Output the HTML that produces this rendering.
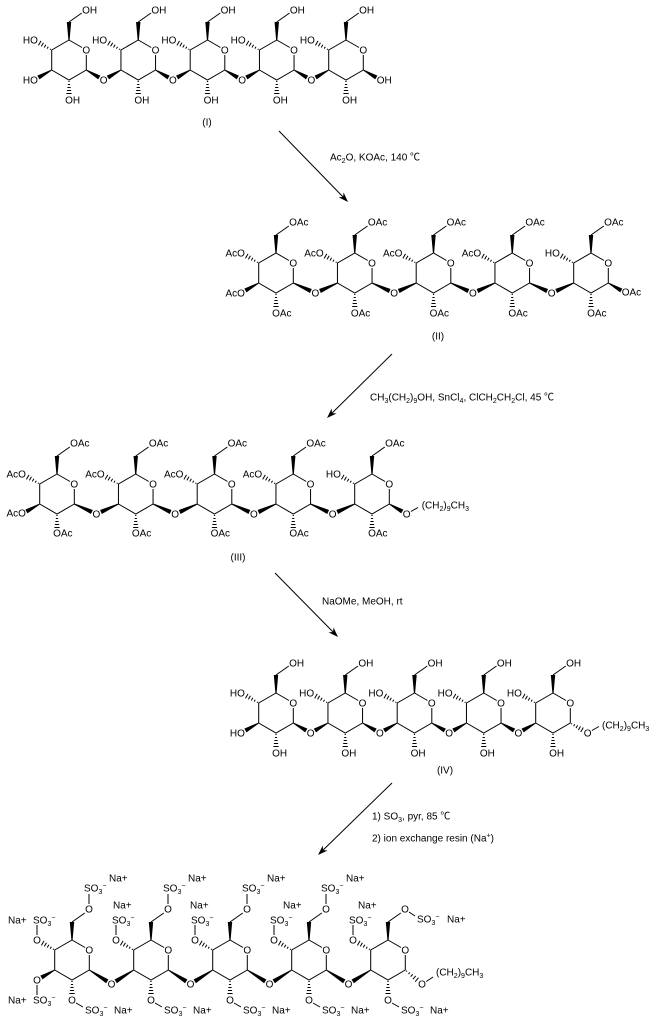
<!DOCTYPE html>
<html><head><meta charset="utf-8"><style>
html,body{margin:0;padding:0;background:#fff;}
svg{display:block}
text{font-family:"Liberation Sans","Noto Sans CJK SC",sans-serif;font-size:10px;fill:#000}
.m{text-anchor:middle}
.e{text-anchor:end}
.s{font-size:7px}
</style></head><body>
<svg width="655" height="1027" viewBox="0 0 655 1027" xmlns="http://www.w3.org/2000/svg">
<defs>
<g id="r">
<path d="M0,0 L13,7.5 M17.3,15 L17.3,30 L0,40 L-17.3,30 L-17.3,10 L0,0 M0,-18 L12.8,-27" fill="none" stroke="#000" stroke-width="1"/>
<polygon points="-0.6,0 0.6,0 2.2,-18 -2.2,-18" fill="#000"/>
</g>
<path id="h4" d="M-18.93,9.75 L-18.33,8.71 M-21.84,8.64 L-20.74,6.74 M-24.75,7.54 L-23.15,4.76 M-27.66,6.43 L-25.56,2.79 M-30.57,5.32 L-27.97,0.82" fill="none" stroke="#000" stroke-width="1"/>
<polygon id="b3" points="-17.05,30.43 -29.5,39.4 -31.7,35.6 -17.55,29.57" fill="#000"/>
<path id="h2" d="M-0.6,41.5 L0.6,41.5 M-1.1,44.5 L1.1,44.5 M-1.6,47.5 L1.6,47.5 M-2.1,50.5 L2.1,50.5 M-2.6,53.5 L2.6,53.5" fill="none" stroke="#000" stroke-width="1"/>
<polygon id="wA" points="17.05,30.43 29.2,39.4 31.4,35.6 17.55,29.57" fill="#000"/>
<g id="gA"><use href="#wA"/><polygon points="52.2,30.43 40,39.4 37.8,35.6 51.7,29.57" fill="#000"/></g>
<g id="gB"><polygon points="17.1,30.46 34.0,39.95 35.8,35.95 17.5,29.54" fill="#000"/><polygon points="61.65,30.46 44.85,39.95 43.05,35.95 61.25,29.54" fill="#000"/></g>
<g id="gC"><polygon points="17.03,30.42 34.09,43.19 36.43,39.47 17.57,29.58" fill="#000"/><polygon points="61.97,30.42 44.91,43.19 42.57,39.47 61.43,29.58" fill="#000"/></g>
<path id="hA" d="M18.3,31.27 L18.9,30.23 M20.65,33.2 L21.75,31.3 M23,35.14 L24.6,32.36 M25.35,37.07 L27.45,33.43 M27.7,39 L30.3,34.5" fill="none" stroke="#000" stroke-width="1"/>
<path id="hC" d="M18.2,31.54 L18.97,30.62 M20.45,34.08 L21.87,32.4 M22.71,36.63 L24.77,34.17 M24.96,39.16 L27.66,35.94 M27.21,41.7 L30.55,37.72" fill="none" stroke="#000" stroke-width="1"/>
</defs>

<!-- ===== (I) ===== -->
<g transform="translate(69,40)"><use href="#r"/><use href="#h4"/><use href="#b3"/><use href="#h2"/><use href="#gA"/>
<text x="13.1" y="-26.4">OH</text><text class="e" x="-31.1" y="3.6">HO</text><text class="m" x="17.3" y="13.6">O</text><text class="e" x="-31.1" y="43.6">HO</text><text x="-3.9" y="63.6">OH</text><text class="m" x="34.6" y="43.6">O</text></g>
<g transform="translate(138.25,40)"><use href="#r"/><use href="#h4"/><use href="#h2"/><use href="#gA"/>
<text x="13.1" y="-26.4">OH</text><text class="e" x="-31.1" y="3.6">HO</text><text class="m" x="17.3" y="13.6">O</text><text x="-3.9" y="63.6">OH</text><text class="m" x="34.6" y="43.6">O</text></g>
<g transform="translate(207.5,40)"><use href="#r"/><use href="#h4"/><use href="#h2"/><use href="#gA"/>
<text x="13.1" y="-26.4">OH</text><text class="e" x="-31.1" y="3.6">HO</text><text class="m" x="17.3" y="13.6">O</text><text x="-3.9" y="63.6">OH</text><text class="m" x="34.6" y="43.6">O</text></g>
<g transform="translate(276.75,40)"><use href="#r"/><use href="#h4"/><use href="#h2"/><use href="#gA"/>
<text x="13.1" y="-26.4">OH</text><text class="e" x="-31.1" y="3.6">HO</text><text class="m" x="17.3" y="13.6">O</text><text x="-3.9" y="63.6">OH</text><text class="m" x="34.6" y="43.6">O</text></g>
<g transform="translate(346,40)"><use href="#r"/><use href="#h4"/><use href="#h2"/><use href="#wA"/>
<text x="13.1" y="-26.4">OH</text><text class="e" x="-31.1" y="3.6">HO</text><text class="m" x="17.3" y="13.6">O</text><text x="-3.9" y="63.6">OH</text><text x="30.7" y="43.6">OH</text></g>
<text class="m" x="207" y="125.6">(I)</text>

<!-- arrow 1 -->
<path d="M279,131 L343.12,196.98" stroke="#000" fill="none"/>
<polygon points="348,202 338.52,197.27 343.12,196.98 343.54,192.39" fill="#000"/>
<text x="330" y="160.6">Ac<tspan class="s" dy="2.5">2</tspan><tspan dy="-2.5">O, KOAc, 140 ℃</tspan></text>

<!-- ===== (II) ===== -->
<g transform="translate(276,253)"><use href="#r"/><use href="#h4"/><use href="#b3"/><use href="#h2"/><use href="#gB"/>
<text x="13.1" y="-27.4">OAc</text><text class="e" x="-31.1" y="3.6">AcO</text><text class="m" x="17.3" y="13.6">O</text><text class="e" x="-31.1" y="43.6">AcO</text><text x="-3.9" y="63.6">OAc</text><text class="m" x="39.4" y="43.6">O</text></g>
<g transform="translate(354.75,253)"><use href="#r"/><use href="#h4"/><use href="#h2"/><use href="#gB"/>
<text x="13.1" y="-27.4">OAc</text><text class="e" x="-31.1" y="3.6">AcO</text><text class="m" x="17.3" y="13.6">O</text><text x="-3.9" y="63.6">OAc</text><text class="m" x="39.4" y="43.6">O</text></g>
<g transform="translate(433.5,253)"><use href="#r"/><use href="#h4"/><use href="#h2"/><use href="#gB"/>
<text x="13.1" y="-27.4">OAc</text><text class="e" x="-31.1" y="3.6">AcO</text><text class="m" x="17.3" y="13.6">O</text><text x="-3.9" y="63.6">OAc</text><text class="m" x="39.4" y="43.6">O</text></g>
<g transform="translate(512.25,253)"><use href="#r"/><use href="#h4"/><use href="#h2"/><use href="#gB"/>
<text x="13.1" y="-27.4">OAc</text><text class="e" x="-31.1" y="3.6">AcO</text><text class="m" x="17.3" y="13.6">O</text><text x="-3.9" y="63.6">OAc</text><text class="m" x="39.4" y="43.6">O</text></g>
<g transform="translate(591,253)"><use href="#r"/><use href="#h4"/><use href="#h2"/><use href="#wA"/>
<text x="13.1" y="-27.4">OAc</text><text class="e" x="-31.1" y="3.6">HO</text><text class="m" x="17.3" y="13.6">O</text><text x="-3.9" y="63.6">OAc</text><text x="30.7" y="42.6">OAc</text></g>
<text class="m" x="438" y="339.6">(II)</text>

<!-- arrow 2 -->
<path d="M392,354 L331.99,413.09" stroke="#000" fill="none"/>
<polygon points="327,418 331.67,408.48 331.99,413.09 336.59,413.48" fill="#000"/>
<text x="370" y="400.6">CH<tspan class="s" dy="2.5">3</tspan><tspan dy="-2.5">(CH</tspan><tspan class="s" dy="2.5">2</tspan><tspan dy="-2.5">)</tspan><tspan class="s" dy="2.5">9</tspan><tspan dy="-2.5">OH, SnCl</tspan><tspan class="s" dy="2.5">4</tspan><tspan dy="-2.5">, ClCH</tspan><tspan class="s" dy="2.5">2</tspan><tspan dy="-2.5">CH</tspan><tspan class="s" dy="2.5">2</tspan><tspan dy="-2.5">Cl, 45 ℃</tspan></text>

<!-- ===== (III) ===== -->
<g transform="translate(57,474)"><use href="#r"/><use href="#h4"/><use href="#b3"/><use href="#h2"/><use href="#gB"/>
<text x="13.1" y="-27.4">OAc</text><text class="e" x="-31.1" y="3.6">AcO</text><text class="m" x="17.3" y="13.6">O</text><text class="e" x="-31.1" y="42.6">AcO</text><text x="-3.9" y="62.6">OAc</text><text class="m" x="39.4" y="43.6">O</text></g>
<g transform="translate(135.75,474)"><use href="#r"/><use href="#h4"/><use href="#h2"/><use href="#gB"/>
<text x="13.1" y="-27.4">OAc</text><text class="e" x="-31.1" y="3.6">AcO</text><text class="m" x="17.3" y="13.6">O</text><text x="-3.9" y="62.6">OAc</text><text class="m" x="39.4" y="43.6">O</text></g>
<g transform="translate(214.5,474)"><use href="#r"/><use href="#h4"/><use href="#h2"/><use href="#gB"/>
<text x="13.1" y="-27.4">OAc</text><text class="e" x="-31.1" y="3.6">AcO</text><text class="m" x="17.3" y="13.6">O</text><text x="-3.9" y="62.6">OAc</text><text class="m" x="39.4" y="43.6">O</text></g>
<g transform="translate(293.25,474)"><use href="#r"/><use href="#h4"/><use href="#h2"/><use href="#gB"/>
<text x="13.1" y="-27.4">OAc</text><text class="e" x="-31.1" y="3.6">AcO</text><text class="m" x="17.3" y="13.6">O</text><text x="-3.9" y="62.6">OAc</text><text class="m" x="39.4" y="43.6">O</text></g>
<g transform="translate(372,474)"><use href="#r"/><use href="#h4"/><use href="#h2"/><use href="#wA"/>
<text x="13.1" y="-27.4">OAc</text><text class="e" x="-31.1" y="3.6">HO</text><text class="m" x="17.3" y="13.6">O</text><text x="-3.9" y="62.6">OAc</text><text class="m" x="34.6" y="43.6">O</text>
<path d="M38.9,37.5 L46,33.5" stroke="#000" fill="none"/>
<text x="49.7" y="34.6">(CH<tspan class="s" dy="2.5">2</tspan><tspan dy="-2.5">)</tspan><tspan class="s" dy="2.5">9</tspan><tspan dy="-2.5">CH</tspan><tspan class="s" dy="2.5">3</tspan></text></g>
<text class="m" x="238" y="560.6">(III)</text>

<!-- arrow 3 -->
<path d="M275,573 L333.09,632.01" stroke="#000" fill="none"/>
<polygon points="338,637 328.49,632.32 333.09,632.01 333.49,627.42" fill="#000"/>
<text x="322" y="604.6">NaOMe, MeOH, rt</text>

<!-- ===== (IV) ===== -->
<g transform="translate(276,693)"><use href="#r"/><use href="#h4"/><use href="#b3"/><use href="#h2"/><use href="#gA"/>
<text x="13.1" y="-26.4">OH</text><text class="e" x="-31.1" y="3.6">HO</text><text class="m" x="17.3" y="13.6">O</text><text class="e" x="-31.1" y="43.6">HO</text><text x="-3.9" y="63.6">OH</text><text class="m" x="34.6" y="43.6">O</text></g>
<g transform="translate(345.25,693)"><use href="#r"/><use href="#h4"/><use href="#h2"/><use href="#gA"/>
<text x="13.1" y="-26.4">OH</text><text class="e" x="-31.1" y="3.6">HO</text><text class="m" x="17.3" y="13.6">O</text><text x="-3.9" y="63.6">OH</text><text class="m" x="34.6" y="43.6">O</text></g>
<g transform="translate(414.5,693)"><use href="#r"/><use href="#h4"/><use href="#h2"/><use href="#gA"/>
<text x="13.1" y="-26.4">OH</text><text class="e" x="-31.1" y="3.6">HO</text><text class="m" x="17.3" y="13.6">O</text><text x="-3.9" y="63.6">OH</text><text class="m" x="34.6" y="43.6">O</text></g>
<g transform="translate(483.75,693)"><use href="#r"/><use href="#h4"/><use href="#h2"/><use href="#gA"/>
<text x="13.1" y="-26.4">OH</text><text class="e" x="-31.1" y="3.6">HO</text><text class="m" x="17.3" y="13.6">O</text><text x="-3.9" y="63.6">OH</text><text class="m" x="34.6" y="43.6">O</text></g>
<g transform="translate(553,693)"><use href="#r"/><use href="#h4"/><use href="#h2"/><use href="#hA"/>
<text x="13.1" y="-26.4">OH</text><text class="e" x="-31.1" y="3.6">HO</text><text class="m" x="17.3" y="13.6">O</text><text x="-3.9" y="63.6">OH</text><text class="m" x="34.6" y="43.6">O</text>
<path d="M38.9,37.5 L46,33.5" stroke="#000" fill="none"/>
<text x="49" y="35.6">(CH<tspan class="s" dy="2.5">2</tspan><tspan dy="-2.5">)</tspan><tspan class="s" dy="2.5">9</tspan><tspan dy="-2.5">CH</tspan><tspan class="s" dy="2.5">3</tspan></text></g>
<text class="m" x="445" y="773.6">(IV)</text>

<!-- arrow 4 -->
<path d="M392,783 L323.02,850.11" stroke="#000" fill="none"/>
<polygon points="318,855 322.73,845.51 323.02,850.11 327.61,850.53" fill="#000"/>
<text x="372" y="819.6">1) SO<tspan class="s" dy="2.5">3</tspan><tspan dy="-2.5">, pyr, 85 ℃</tspan></text>
<text x="372" y="841.6">2) ion exchange resin (Na<tspan class="s" dy="-4">+</tspan><tspan dy="4">)</tspan></text>

<!-- ===== (V) ===== -->
<g transform="translate(72,940)"><use href="#r"/><use href="#h4"/><use href="#b3"/><use href="#h2"/><use href="#gC"/>
<path d="M17,-36 L17,-46 M-35,-5 L-35,-15 M-35,45 L-35,55 M4,63 L11,67" stroke="#000" fill="none"/>
<text class="m" x="17" y="-27.4">O</text>
<text x="12" y="-48.4">SO<tspan class="s" dy="2.5">3</tspan><tspan class="s" dy="-6">−</tspan></text>
<text x="37" y="-58.4">Na+</text>
<text class="m" x="-35" y="3.6">O</text>
<text x="-39" y="-16.4">SO<tspan class="s" dy="2.5">3</tspan><tspan class="s" dy="-6">−</tspan></text>
<text x="-64" y="-16.4">Na+</text>
<text class="m" x="17.3" y="13.6">O</text>
<text class="m" x="-35" y="43.6">O</text>
<text x="-39" y="63.6">SO<tspan class="s" dy="2.5">3</tspan><tspan class="s" dy="-6">−</tspan></text>
<text x="-64" y="63.6">Na+</text>
<text class="m" x="0" y="63.6">O</text>
<text x="13" y="73.6">SO<tspan class="s" dy="2.5">3</tspan><tspan class="s" dy="-6">−</tspan></text>
<text x="42" y="73.6">Na+</text>
<text class="m" x="39.5" y="47.6">O</text></g>

<g transform="translate(151,940)"><use href="#r"/><use href="#h4"/><use href="#h2"/><use href="#gC"/>
<path d="M17,-36 L17,-46 M-35,-5 L-35,-15 M4,63 L11,67" stroke="#000" fill="none"/>
<text class="m" x="17" y="-27.4">O</text>
<text x="12" y="-48.4">SO<tspan class="s" dy="2.5">3</tspan><tspan class="s" dy="-6">−</tspan></text>
<text x="37" y="-58.4">Na+</text>
<text class="m" x="-35" y="3.6">O</text>
<text x="-39" y="-16.4">SO<tspan class="s" dy="2.5">3</tspan><tspan class="s" dy="-6">−</tspan></text>
<text x="-38" y="-31.4">Na+</text>
<text class="m" x="17.3" y="13.6">O</text>
<text class="m" x="0" y="63.6">O</text>
<text x="13" y="73.6">SO<tspan class="s" dy="2.5">3</tspan><tspan class="s" dy="-6">−</tspan></text>
<text x="42" y="73.6">Na+</text>
<text class="m" x="39.5" y="47.6">O</text></g>

<g transform="translate(230,940)"><use href="#r"/><use href="#h4"/><use href="#h2"/><use href="#gC"/>
<path d="M17,-36 L17,-46 M-35,-5 L-35,-15 M4,63 L11,67" stroke="#000" fill="none"/>
<text class="m" x="17" y="-27.4">O</text>
<text x="12" y="-48.4">SO<tspan class="s" dy="2.5">3</tspan><tspan class="s" dy="-6">−</tspan></text>
<text x="37" y="-58.4">Na+</text>
<text class="m" x="-35" y="3.6">O</text>
<text x="-39" y="-16.4">SO<tspan class="s" dy="2.5">3</tspan><tspan class="s" dy="-6">−</tspan></text>
<text x="-40" y="-31.4">Na+</text>
<text class="m" x="17.3" y="13.6">O</text>
<text class="m" x="0" y="63.6">O</text>
<text x="13" y="73.6">SO<tspan class="s" dy="2.5">3</tspan><tspan class="s" dy="-6">−</tspan></text>
<text x="42" y="73.6">Na+</text>
<text class="m" x="39.5" y="47.6">O</text></g>

<g transform="translate(309,940)"><use href="#r"/><use href="#h4"/><use href="#h2"/><use href="#gC"/>
<path d="M17,-36 L17,-46 M-35,-5 L-35,-15 M4,63 L11,67" stroke="#000" fill="none"/>
<text class="m" x="17" y="-27.4">O</text>
<text x="12" y="-48.4">SO<tspan class="s" dy="2.5">3</tspan><tspan class="s" dy="-6">−</tspan></text>
<text x="37" y="-58.4">Na+</text>
<text class="m" x="-35" y="3.6">O</text>
<text x="-39" y="-16.4">SO<tspan class="s" dy="2.5">3</tspan><tspan class="s" dy="-6">−</tspan></text>
<text x="-26" y="-31.4">Na+</text>
<text class="m" x="17.3" y="13.6">O</text>
<text class="m" x="0" y="63.6">O</text>
<text x="13" y="73.6">SO<tspan class="s" dy="2.5">3</tspan><tspan class="s" dy="-6">−</tspan></text>
<text x="42" y="73.6">Na+</text>
<text class="m" x="39.5" y="47.6">O</text></g>

<g transform="translate(388,940)"><use href="#r"/><use href="#h4"/><use href="#h2"/><use href="#hC"/>
<path d="M21,-28 L27,-24 M-35,-5 L-35,-15 M4,63 L11,67 M38.3,41.5 L45,37" stroke="#000" fill="none"/>
<text class="m" x="17" y="-27.4">O</text>
<text x="29" y="-17.4">SO<tspan class="s" dy="2.5">3</tspan><tspan class="s" dy="-6">−</tspan></text>
<text x="59" y="-17.4">Na+</text>
<text class="m" x="-35" y="3.6">O</text>
<text x="-39" y="-16.4">SO<tspan class="s" dy="2.5">3</tspan><tspan class="s" dy="-6">−</tspan></text>
<text x="-30" y="-31.4">Na+</text>
<text class="m" x="17.3" y="13.6">O</text>
<text class="m" x="0" y="63.6">O</text>
<text x="13" y="73.6">SO<tspan class="s" dy="2.5">3</tspan><tspan class="s" dy="-6">−</tspan></text>
<text x="42" y="73.6">Na+</text>
<text class="m" x="34" y="47.6">O</text>
<text x="48" y="35.6">(CH<tspan class="s" dy="2.5">2</tspan><tspan dy="-2.5">)</tspan><tspan class="s" dy="2.5">9</tspan><tspan dy="-2.5">CH</tspan><tspan class="s" dy="2.5">3</tspan></text></g>
</svg>
</body></html>
